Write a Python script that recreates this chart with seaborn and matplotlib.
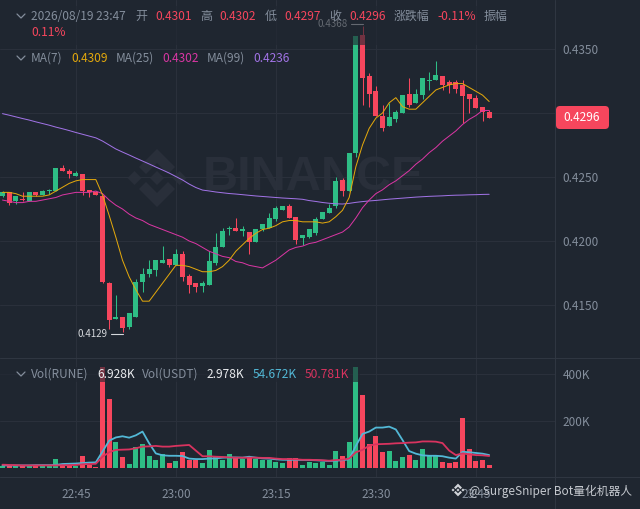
import numpy as np
import pandas as pd
import matplotlib
matplotlib.use("Agg")
import matplotlib.pyplot as plt
from matplotlib.patches import FancyBboxPatch, Polygon, Rectangle
import seaborn as sns

# values, one candle per minute from 22:34 to 23:47
open_price = [.4235, .4238, .4231, .4233, .4231, .4238, .4236, .4239, .4239, .4257, .4255, .4251, .4252, .4240, .4238,
              .4235, .4167, .4139, .4141, .4133, .4141, .4168, .4174, .4177, .4183, .4186, .4181, .4190, .4173, .4167,
              .4165, .4166, .4183, .4195, .4209, .4210, .4208, .4207, .4199, .4209, .4210, .4217, .4224, .4227, .4219,
              .4202, .4203, .4206, .4217, .4222, .4227, .4248, .4239, .4269, .4361, .4329, .4317, .4298, .4290, .4295,
              .4300, .4315, .4308, .4314, .4325, .4326, .4329, .4324, .4324, .4322, .4315, .4312, .4305, .4301]
close_price = [.4238, .4230, .4235, .4232, .4238, .4236, .4239, .4240, .4257, .4255, .4252, .4253, .4239, .4238, .4236,
               .4168, .4138, .4141, .4132, .4144, .4168, .4174, .4178, .4185, .4185, .4181, .4190, .4172, .4166, .4164,
               .4167, .4184, .4195, .4208, .4210, .4208, .4209, .4199, .4209, .4213, .4218, .4226, .4227, .4218, .4201,
               .4205, .4209, .4217, .4223, .4226, .4247, .4239, .4269, .4360, .4327, .4315, .4298, .4288, .4297, .4301,
               .4314, .4306, .4315, .4327, .4326, .4330, .4322, .4322, .4319, .4313, .4311, .4304, .4301, .4296]
high_price = [.4239, .4238, .4235, .4238, .4238, .4238, .4240, .4241, .4257, .4259, .4256, .4255, .4252, .4240, .4239,
              .4236, .4168, .4158, .4141, .4144, .4170, .4179, .4185, .4185, .4196, .4186, .4194, .4192, .4174, .4167,
              .4169, .4192, .4206, .4210, .4212, .4218, .4212, .4207, .4209, .4213, .4222, .4227, .4227, .4229, .4219,
              .4205, .4209, .4219, .4223, .4229, .4250, .4249, .4269, .4360, .4368, .4331, .4321, .4306, .4308, .4302,
              .4314, .4327, .4319, .4327, .4332, .4341, .4329, .4326, .4326, .4326, .4315, .4314, .4305, .4302]
low_price = [.4234, .4228, .4229, .4231, .4231, .4235, .4236, .4237, .4239, .4255, .4249, .4251, .4236, .4234, .4236,
             .4167, .4131, .4139, .4129, .4131, .4141, .4160, .4172, .4173, .4183, .4180, .4181, .4169, .4159, .4160,
             .4160, .4166, .4181, .4195, .4205, .4208, .4204, .4190, .4199, .4208, .4210, .4216, .4224, .4218, .4198,
             .4197, .4202, .4205, .4217, .4222, .4226, .4235, .4239, .4266, .4306, .4305, .4298, .4286, .4290, .4293,
             .4300, .4305, .4308, .4311, .4318, .4326, .4318, .4316, .4316, .4292, .4300, .4304, .4294, .4296]
ma7 = [.4238, .4238, .4237, .4235, .4235, .4235, .4235, .4236, .4239, .4242, .4245, .4247, .4248, .4248, .4248,
       .4236, .4220, .4203, .4185, .4172, .4162, .4153, .4153, .4160, .4167, .4174, .4181, .4181, .4180, .4178,
       .4176, .4176, .4177, .4180, .4185, .4192, .4197, .4202, .4206, .4209, .4210, .4212, .4215, .4216, .4216,
       .4215, .4215, .4215, .4214, .4215, .4219, .4224, .4234, .4258, .4275, .4288, .4296, .4300, .4308, .4312,
       .4305, .4303, .4303, .4308, .4313, .4318, .4320, .4322, .4323, .4323, .4320, .4317, .4314, .4309]
ma25 = [.4232, .4231, .4230, .4230, .4231, .4231, .4232, .4233, .4234, .4236, .4237, .4238, .4238, .4238, .4239,
        .4237, .4232, .4228, .4225, .4221, .4218, .4216, .4213, .4211, .4209, .4207, .4205, .4203, .4200, .4198,
        .4195, .4192, .4190, .4188, .4187, .4184, .4183, .4181, .4180, .4179, .4182, .4185, .4189, .4193, .4195,
        .4196, .4198, .4199, .4201, .4203, .4205, .4207, .4211, .4218, .4226, .4232, .4237, .4240, .4244, .4247,
        .4251, .4255, .4260, .4264, .4269, .4273, .4278, .4282, .4286, .4291, .4295, .4298, .4302, .4302]
ma99 = [.42995, .42983, .42970, .42957, .42945, .42931, .42918, .42905, .42890, .42877, .42863, .42848, .42834, .42820,
        .42806, .42781, .42750, .42719, .42695, .42672, .42648, .42625, .42602, .42578, .42555, .42531, .42504, .42477,
        .42445, .42418, .42398, .42391, .42383, .42377, .42371, .42367, .42362, .42357, .42352, .42348, .42344, .42340,
        .42336, .42333, .42330, .42326, .42316, .42309, .42301, .42295, .42291, .42289, .42294, .42302, .42308, .42313,
        .42317, .42322, .42327, .42331, .42335, .42339, .42343, .42346, .42349, .42351, .42353, .42356, .42358, .42359,
        .42361, .42362, .42364, .42365]
volume_k = [8, 8, 8, 8, 10, 10, 8, 8, 37, 15, 14, 10, 51, 11, 6, 428, 292, 110, 45, 17, 88, 102, 50, 33, 58, 23, 30,
            68, 33, 34, 23, 78, 48, 33, 60, 41, 37, 41, 37, 34, 34, 26, 23, 44, 44, 13, 27, 21, 24, 14, 72, 51, 109,
            428, 310, 104, 138, 68, 74, 28, 47, 57, 34, 82, 51, 54, 27, 21, 26, 213, 79, 30, 34, 11]
vol_ma_usdt = [11, 11, 11, 11, 11, 12, 12, 12, 13, 17, 18, 19, 21, 23, 24, 70, 116, 130, 135, 129, 139, 155, 105, 62,
               54, 52, 52, 51, 40, 38, 38, 40, 41, 44, 45, 45, 44, 48, 44, 41, 40, 37, 35, 35, 35, 34, 34, 33, 31, 30,
               31, 33, 37, 94, 145, 155, 172, 172, 176, 164, 119, 72, 61, 54, 52, 52, 50, 44, 40, 69, 67, 64, 61, 55]
vol_ma_rune = [14, 13, 12, 11, 11, 11, 11, 11, 11, 12, 12, 13, 16, 17, 18, 48, 67, 77, 78, 79, 84, 91, 92, 94, 91, 91,
               94, 96, 98, 74, 50, 50, 48, 47, 45, 44, 44, 44, 44, 43, 43, 40, 38, 38, 37, 35, 35, 34, 33, 31, 34, 35,
               40, 67, 77, 95, 101, 102, 103, 105, 106, 108, 109, 113, 113, 112, 106, 74, 55, 62, 58, 55, 54, 51]
time_ticks = [11, 26, 41, 56, 71]
time_labels = ["22:45", "23:00", "23:15", "23:30", "23:45"]
price_ticks = [.4350, .4300, .4250, .4200, .4150]
price_labels = ["0.4350", "", "0.4250", "0.4200", "0.4150"]
vol_ticks = [200, 400]
vol_labels = ["200K", "400K"]

BG = "#1f2630"
GRID = "#2a303b"
AXIS = "#2f3641"
GRAY = "#848e9c"
GREEN = "#2ebd85"
RED = "#f6465d"
YELLOW = "#e3a80c"
MAGENTA = "#d936a3"
PURPLE = "#a173e6"
CYAN = "#52b8d6"
CRIMSON = "#d8335f"

sns.set_theme(style="dark")
plt.rcParams["font.family"] = ["Noto Sans CJK SC", "DejaVu Sans"]
plt.rcParams["axes.unicode_minus"] = False

df = pd.DataFrame({"minute": np.arange(len(open_price)), "open": open_price, "close": close_price,
                   "high": high_price, "low": low_price, "ma7": ma7, "ma25": ma25, "ma99": ma99,
                   "volume": volume_k, "vol_ma_usdt": vol_ma_usdt, "vol_ma_rune": vol_ma_rune})
df["dir"] = np.where(df["close"] >= df["open"], "up", "down")
colors = {"up": GREEN, "down": RED}

W, H = 640, 509
fig = plt.figure(figsize=(W / 100, H / 100), dpi=100, facecolor=BG)


def px_axes(left, top, right, bottom, z):
    return fig.add_axes([left / W, 1 - bottom / H, (right - left) / W, (bottom - top) / H], zorder=z)


# background layer for the watermark, overlay layer for the legends
back = px_axes(0, 0, W, H, 0)
price_ax = px_axes(0, 0, 555, 358, 1)
vol_ax = px_axes(0, 358, 555, 477, 1)
over = px_axes(0, 0, W, H, 2)
for a in (back, over):
    a.set_xlim(0, W)
    a.set_ylim(H, 0)
    a.axis("off")
    a.patch.set_alpha(0)
back.patch.set_alpha(1)


def binance_logo(ax, cx, cy, scale, color, z=1):
    half = 7 * scale
    for dx in (-22.5, 0, 22.5):
        x0 = cx + dx * scale
        ax.add_patch(Polygon([(x0, cy - half), (x0 + half, cy), (x0, cy + half), (x0 - half, cy)],
                             fc=color, ec="none", zorder=z))
    for sign in (-1, 1):
        chevron = [(0, 29), (18, 11), (11, 4), (0, 15), (-11, 4), (-18, 11)]
        ax.add_patch(Polygon([(cx + a * scale, cy + sign * b * scale) for a, b in chevron],
                             fc=color, ec="none", zorder=z))


binance_logo(back, 157, 178, 1.0, "#292f3a")
back.text(314, 178, "BINANCE", color="#292f3a", fontsize=35, fontweight="bold", family="Liberation Sans",
          ha="center", va="center")

# candles
for ax in (price_ax, vol_ax):
    ax.set_xlim(-0.375, 82.875)
    ax.set_facecolor("none")
    ax.grid(True, color=GRID, linewidth=0.8)
    ax.set_axisbelow(True)
    for s in ax.spines.values():
        s.set_visible(False)
    ax.yaxis.tick_right()
    ax.tick_params(axis="both", length=0, colors=GRAY, labelsize=8.5)
    ax.tick_params(axis="y", pad=5.5)

price_ax.set_ylim(.41086, .43883)
for d, part in df.groupby("dir"):
    price_ax.vlines(part["minute"], part["low"], part["high"], color=colors[d], linewidth=0.75, zorder=2)
    price_ax.bar(part["minute"], part["close"] - part["open"], bottom=part["open"], width=0.74,
                 color=colors[d], linewidth=0, zorder=2)
sns.lineplot(data=df, x="minute", y="ma99", color=PURPLE, linewidth=0.72, ax=price_ax, zorder=3)
sns.lineplot(data=df, x="minute", y="ma25", color=MAGENTA, linewidth=0.72, ax=price_ax, zorder=3)
sns.lineplot(data=df, x="minute", y="ma7", color=YELLOW, linewidth=0.72, ax=price_ax, zorder=3)
price_ax.set_xticks(time_ticks)
price_ax.set_xticklabels([])
price_ax.set_yticks(price_ticks)
price_ax.set_yticklabels(price_labels)
price_ax.set_xlabel("")
price_ax.set_ylabel("")

# volume pane
sns.barplot(data=df, x="minute", y="volume", hue="dir", palette=colors, native_scale=True, dodge=False,
            width=0.72, saturation=1, linewidth=0, legend=False, ax=vol_ax, zorder=2)
sns.lineplot(data=df, x="minute", y="vol_ma_usdt", color=CYAN, linewidth=1.3, ax=vol_ax, zorder=3)
sns.lineplot(data=df, x="minute", y="vol_ma_rune", color=CRIMSON, linewidth=1.3, ax=vol_ax, zorder=3)
vol_ax.set_xlim(-0.375, 82.875)
vol_ax.set_ylim(-38.3, 468)
vol_ax.set_xticks(time_ticks)
vol_ax.set_xticklabels(time_labels)
vol_ax.set_yticks(vol_ticks)
vol_ax.set_yticklabels(vol_labels)
vol_ax.tick_params(axis="x", pad=8)
vol_ax.set_xlabel("")
vol_ax.set_ylabel("")

# extreme price markers
over.text(78, 334, "0.4129", color="#d5d8dc", fontsize=7, va="center", ha="left", zorder=1)
over.plot([111, 123], [334, 334], color="#d5d8dc", linewidth=0.8, zorder=1)
over.text(318, 24, "0.4368", color="#d5d8dc", fontsize=7, va="center", ha="left", zorder=1)
over.plot([351, 363], [24, 24], color="#d5d8dc", linewidth=0.8, zorder=1)

# legend backdrops dim whatever sits under the text
over.add_patch(Rectangle((0, 6), 555, 39, fc=BG, ec="none", alpha=0.62, zorder=2))
over.add_patch(Rectangle((0, 367), 360, 15, fc=BG, ec="none", alpha=0.62, zorder=2))

# pane borders
over.plot([555, 555], [0, H], color=AXIS, linewidth=0.8, zorder=1)
over.plot([0, W], [358, 358], color=AXIS, linewidth=0.8, zorder=1)
over.plot([0, W], [477, 477], color=AXIS, linewidth=0.8, zorder=1)


def chevron(y):
    over.plot([17, 21, 25], [y - 2, y + 2, y - 2], color=GRAY, linewidth=0.9, zorder=3)


def label(x, y, s, color=GRAY):
    over.text(x, y, s, color=color, fontsize=8.6, va="center", ha="left", zorder=3)


chevron(16)
header = [(31, "2026/08/19 23:47", GRAY), (135, "开", GRAY), (155, "0.4301", RED), (200, "高", GRAY),
          (219, "0.4302", RED), (265, "低", GRAY), (284, "0.4297", RED), (329, "收", GRAY),
          (349, "0.4296", RED), (394, "涨跌幅", GRAY), (437, "-0.11%", RED), (484, "振幅", GRAY)]
for x, s, c in header:
    label(x, 16, s, c)
label(31, 32, "0.11%", RED)

chevron(58)
ma_row = [(31, "MA(7)", GRAY), (71, "0.4309", YELLOW), (116, "MA(25)", GRAY), (162, "0.4302", MAGENTA),
          (207, "MA(99)", GRAY), (253, "0.4236", PURPLE)]
for x, s, c in ma_row:
    label(x, 58, s, c)

chevron(374)
vol_row = [(31, "Vol(RUNE)", GRAY), (97, "6.928K", "#eaecef"), (142, "Vol(USDT)", GRAY), (207, "2.978K", "#eaecef"),
           (253, "54.672K", CYAN), (305, "50.781K", CRIMSON)]
for x, s, c in vol_row:
    label(x, 374, s, c)

# last price tag
over.add_patch(FancyBboxPatch((558, 108), 49, 19, boxstyle="round,pad=2,rounding_size=4", fc=RED, ec="none", zorder=3))
over.text(582, 117.5, "0.4296", color="white", fontsize=8.6, ha="center", va="center", zorder=4)

# repost watermark
binance_logo(over, 458, 490, 0.22, "#d0d3d8", z=4)
over.text(469, 491, "@ SurgeSniper Bot量化机器人", color="#c4c8ce", fontsize=8.5, ha="left", va="center", zorder=4)

fig.savefig("out.png", dpi=100, facecolor=BG)
